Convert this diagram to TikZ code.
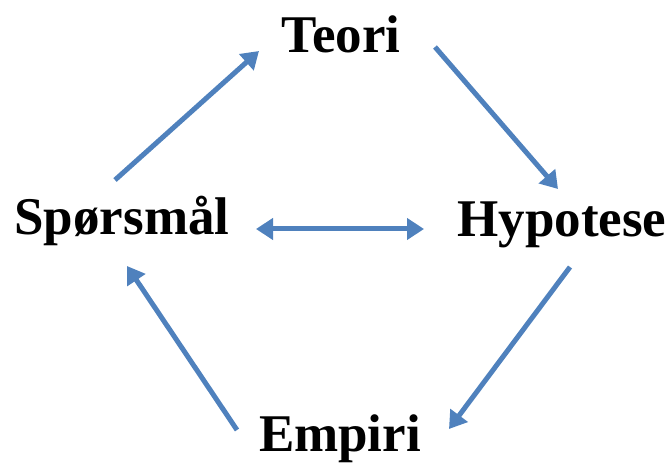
\documentclass[tikz,border=0pt]{standalone}
\usepackage{fontspec}
\setmainfont{Liberation Serif}
\usetikzlibrary{arrows.meta}
\definecolor{arrowblue}{HTML}{4F81BD}
\tikzset{
  lbl/.style={font=\fontsize{53}{60}\selectfont\bfseries, anchor=base, inner sep=0pt},
  conn/.style={draw=arrowblue, line width=5pt, -{Triangle[length=17pt,width=21pt]}},
  conn2/.style={draw=arrowblue, line width=5pt, {Triangle[length=17pt,width=21pt]}-{Triangle[length=17pt,width=21pt]}}
}
\begin{document}
\begin{tikzpicture}[x=1pt,y=1pt]
\useasboundingbox (0,0) rectangle (672,463);
\node[lbl] (teori) at (341,410) {Teori};
\node[lbl] (spm) at (122,228) {Spørsmål};
\node[lbl] (hyp) at (562,226) {Hypotese};
\node[lbl] (emp) at (340,11) {Empiri};
\coordinate (a1s) at (115,283); \coordinate (a1e) at (259,412);
\coordinate (a2s) at (435,416); \coordinate (a2e) at (558,274);
\coordinate (a3s) at (256,234); \coordinate (a3e) at (424,234);
\coordinate (a4s) at (570,196); \coordinate (a4e) at (449,34);
\coordinate (a5s) at (237,33); \coordinate (a5e) at (127,197);
\draw[conn] (a1s) -- (a1e);
\draw[conn] (a2s) -- (a2e);
\draw[conn2] (a3s) -- (a3e);
\draw[conn] (a4s) -- (a4e);
\draw[conn] (a5s) -- (a5e);
\end{tikzpicture}
\end{document}
